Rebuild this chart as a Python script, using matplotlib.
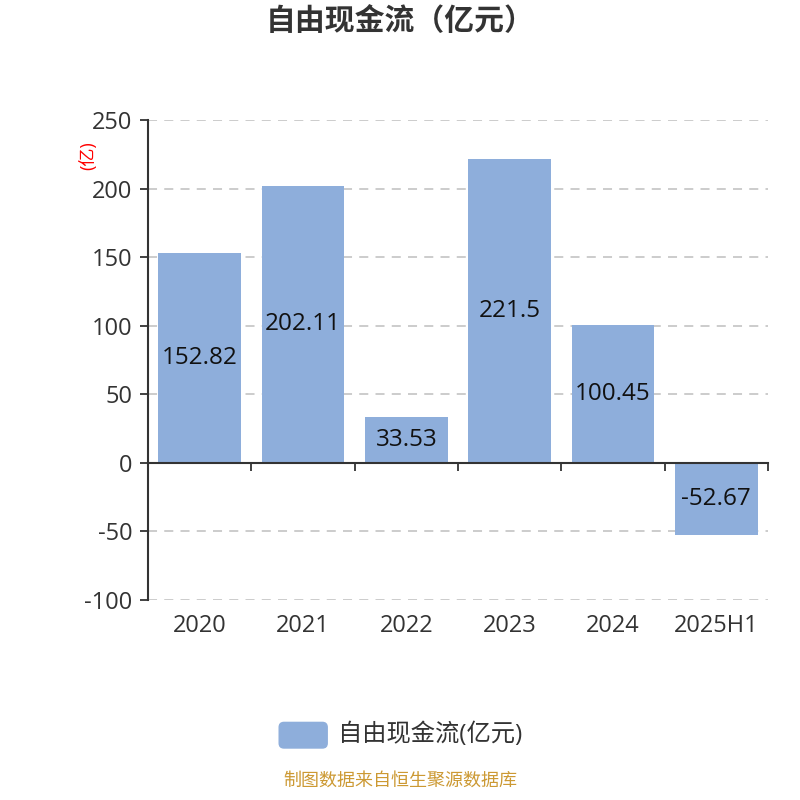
import matplotlib.pyplot as plt
from matplotlib.patches import FancyBboxPatch
from matplotlib.transforms import blended_transform_factory

plt.rcParams['font.family'] = ['Open Sans', 'Noto Sans CJK SC', 'DejaVu Sans']

years = ["2020", "2021", "2022", "2023", "2024", "2025H1"]
fcf = [152.82, 202.11, 33.53, 221.5, 100.45, -52.67]
yticks = [-100, -50, 0, 50, 100, 150, 200, 250]

bar_color = "#8EAEDB"
text_dark = "#333333"

fig = plt.figure(figsize=(8, 8), dpi=100)
ax = fig.add_axes([0.185, 0.25, 0.775, 0.60])

x = list(range(len(years)))
ax.bar(x, fcf, width=0.8, color=bar_color, zorder=2)

for xi, v in zip(x, fcf):
    ax.text(xi, v / 2, f"{v:g}", ha="center", va="center", fontsize=17.5,
            color="#111111", zorder=3)

ax.set_xlim(-0.5, len(years) - 0.5)
ax.set_ylim(-100, 250)
ax.set_yticks(yticks)
ax.set_yticklabels([str(t) for t in yticks], fontsize=17, color=text_dark)
ax.tick_params(axis="y", length=6, width=1.3, color=text_dark, pad=5)

# grid
for t in yticks:
    if t != 0:
        ax.axhline(t, color="#C8C8C8", lw=1.3, ls=(0, (5, 4)), zorder=1)

# axes spines
for s in ["top", "right"]:
    ax.spines[s].set_visible(False)
ax.spines["left"].set_color(text_dark)
ax.spines["left"].set_linewidth(1.5)
ax.spines["bottom"].set_position(("data", 0))
ax.spines["bottom"].set_color(text_dark)
ax.spines["bottom"].set_linewidth(1.5)
ax.spines["bottom"].set_zorder(4)

# x ticks at category boundaries, labels below the plot
ax.set_xticks([i - 0.5 for i in range(len(years) + 1)])
ax.set_xticklabels([])
ax.tick_params(axis="x", length=6, width=1.3, color=text_dark)
trans = blended_transform_factory(ax.transData, ax.transAxes)
for xi, lab in zip(x, years):
    ax.text(xi, -0.054, lab, transform=trans, ha="center", va="center",
            fontsize=17, color=text_dark)

# unit label
fig.text(0.11, 0.806, "(亿)", rotation=90, color="red", fontsize=13,
         ha="center", va="center")

# title
fig.text(0.5, 0.972, "自由现金流（亿元）", ha="center", va="center",
         fontsize=21.5, fontweight="bold", color=text_dark)

# legend
patch = FancyBboxPatch((0.349, 0.065), 0.060, 0.032,
                       boxstyle="round,pad=0,rounding_size=0.006",
                       transform=fig.transFigure, color=bar_color)
fig.patches.append(patch)
fig.text(0.422, 0.081, "自由现金流(亿元)", ha="left", va="center",
         fontsize=17.5, color=text_dark)

# source
fig.text(0.5, 0.024, "制图数据来自恒生聚源数据库", ha="center", va="center",
         fontsize=13, color="#CC9933")

fig.savefig("out.png", dpi=100)
